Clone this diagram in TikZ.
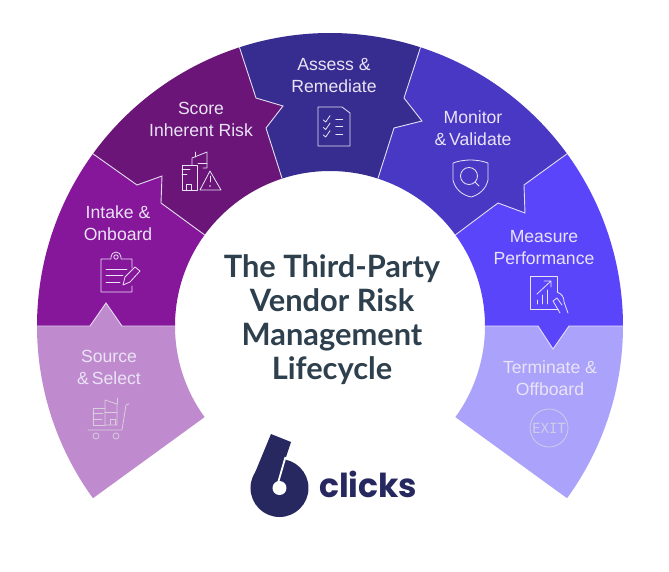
\documentclass[tikz,border=0pt]{standalone}
\usepackage{fontspec}
\setmainfont{Liberation Sans}
\newfontfamily\titlefont{Lato}
\newfontfamily\logofont{Poppins}
\newfontfamily\exitfont{DejaVu Sans Mono}
\definecolor{cSource}{HTML}{C08BCE}
\definecolor{cIntake}{HTML}{86169A}
\definecolor{cScore}{HTML}{6A1577}
\definecolor{cAssess}{HTML}{372D91}
\definecolor{cMonitor}{HTML}{4838C4}
\definecolor{cMeasure}{HTML}{5A45FB}
\definecolor{cTerm}{HTML}{ABA3FB}
\definecolor{cEdge}{HTML}{E4DCF0}
\definecolor{cLabel}{HTML}{E9E3F6}
\definecolor{cTitle}{HTML}{2E404D}
\definecolor{cLogo}{HTML}{27285F}
\definecolor{cBuild}{HTML}{D8CEDC}
\definecolor{cBuild2}{HTML}{CFCBE9}
\tikzset{
  seglabel/.style={text=cLabel,align=center,font=\fontsize{17.6}{22}\selectfont,inner sep=0pt},
  edgeline/.style={draw=cEdge,line width=0.9pt,line join=miter},
  icon/.style={draw=#1,line width=0.8pt,line join=round,line cap=round},
  icon/.default=cLabel
}
\begin{document}
\begin{tikzpicture}[x=1pt,y=1pt]
\useasboundingbox[fill=white] (-330,-245) rectangle (339,326);
\def\Ro{293}\def\Ri{155}
% segments (origin = ring centre)
\fill[cSource] (216:\Ro) arc[start angle=216,end angle=180,radius=\Ro pt] -- (-240,0) -- (-224,23) -- (-208,0) -- (180:\Ri) arc[start angle=180,end angle=216,radius=\Ri pt] -- cycle;
\fill[cIntake] (180:\Ro) arc[start angle=180,end angle=144,radius=\Ro pt] -- (-193,141) -- (-168,150) -- (-169,123) -- (144:\Ri) arc[start angle=144,end angle=180,radius=\Ri pt] -- (-208,0) -- (-224,23) -- (-240,0) -- cycle;
\fill[cScore] (144:\Ro) arc[start angle=144,end angle=108,radius=\Ro pt] -- (-74,228) -- (-47,220) -- (-64,198) -- (108:\Ri) arc[start angle=108,end angle=144,radius=\Ri pt] -- (-169,123) -- (-168,150) -- (-193,141) -- cycle;
\fill[cAssess] (108:\Ro) arc[start angle=108,end angle=72,radius=\Ro pt] -- (74,228) -- (92,205) -- (64,198) -- (72:\Ri) arc[start angle=72,end angle=108,radius=\Ri pt] -- (-64,198) -- (-47,220) -- (-74,228) -- cycle;
\fill[cMonitor] (72:\Ro) arc[start angle=72,end angle=36,radius=\Ro pt] -- (194,141) -- (195,113) -- (168,123) -- (36:\Ri) arc[start angle=36,end angle=72,radius=\Ri pt] -- (64,198) -- (92,205) -- (74,228) -- cycle;
\fill[cMeasure] (36:\Ro) arc[start angle=36,end angle=0,radius=\Ro pt] -- (239,0) -- (223,-23) -- (208,0) -- (0:\Ri) arc[start angle=0,end angle=36,radius=\Ri pt] -- (168,123) -- (195,113) -- (194,141) -- cycle;
\fill[cTerm] (0:\Ro) arc[start angle=0,end angle=-36,radius=\Ro pt] -- (-36:\Ri) arc[start angle=-36,end angle=0,radius=\Ri pt] -- (155,0) -- (208,0) -- (223,-23) -- (239,0) -- cycle;
% boundaries
\draw[edgeline] (180:\Ro) -- (-240,0) -- (-224,23) -- (-208,0) -- (180:\Ri);
\draw[edgeline] (144:\Ro) -- (-193,141) -- (-168,150) -- (-169,123) -- (144:\Ri);
\draw[edgeline] (108:\Ro) -- (-74,228) -- (-47,220) -- (-64,198) -- (108:\Ri);
\draw[edgeline] (72:\Ro) -- (74,228) -- (92,205) -- (64,198) -- (72:\Ri);
\draw[edgeline] (36:\Ro) -- (194,141) -- (195,113) -- (168,123) -- (36:\Ri);
\draw[edgeline] (0:\Ro) -- (239,0) -- (223,-23) -- (208,0) -- (0:\Ri);
\begin{scope}[shift={(-330pt,326pt)},y=-1pt]
% labels
\node[seglabel] (lSource) at (109,367.5) {Source\\\&\,Select};
\node[seglabel] (lIntake) at (118,223.5) {Intake \&\\Onboard};
\node[seglabel] (lScore) at (201,119.5) {Score\\Inherent Risk};
\node[seglabel] (lAssess) at (334,75.5) {Assess \&\\Remediate};
\node[seglabel] (lMonitor) at (473,128.5) {Monitor\\\&\,Validate};
\node[seglabel] (lMeasure) at (544,247.5) {Measure\\Performance};
\node[seglabel] (lTerm) at (550,378.5) {Terminate \&\\Offboard};
% title
\node[text=cTitle,align=center,inner sep=0pt,font=\titlefont\bfseries\fontsize{30.8}{34}\selectfont] (title) at (332,320) {The Third-Party\\Vendor Risk\\Management\\Lifecycle};
% intake icon
\draw[icon] (132,268) -- (132,259) -- (121,259) -- (121,257) arc[start angle=0,end angle=180,radius=5pt] -- (111,259) -- (101,259) -- (101,292) -- (132,292) -- (132,286);
\draw[icon] (116,257) circle[radius=2.2pt];
\draw[icon] (106,269) -- (127,269) (106,275) -- (123,275) (106,282) -- (120,282);
\draw[icon] (123,285) -- (125,277) -- (135,267) -- (140,271) -- (130,282) -- cycle;
% assess icon
\draw[icon] (342,107) -- (318,107) -- (318,146) -- (350,146) -- (350,113) -- cycle;
\foreach \d in {0,7.5,15}{
 \draw[icon] (323.3,120+\d) -- (325.7,122+\d) -- (330,115.7+\d);
 \draw[icon] (335.7,119+\d) -- (342.7,119+\d);
}
% score icon
\draw[icon] (197,190) -- (197,165) -- (182,165) -- (182,190) -- cycle;
\draw[icon] (182,169) -- (190,169) (182,174) -- (187,174);
\draw[icon] (186,190) -- (186,184) -- (191,184) -- (191,190);
\draw[icon] (192,165) -- (192,158) -- (207,152) -- (207,168) -- (203,168);
\draw[icon] (195,157) -- (195,152) (198,163) -- (207,163);
\draw[icon] (210,171) -- (221,190) -- (200,190) -- cycle;
\draw[icon] (210,176) -- (210,182);
\fill[cLabel] (210,186) circle[radius=0.8pt];
% monitor icon
\draw[icon] (453,163) .. controls (464,159) and (477,159) .. (488,163) -- (488,180) .. controls (486,189) and (479,195) .. (471,197) .. controls (462,195) and (455,189) .. (453,180) -- cycle;
\draw[icon] (469,176) circle[radius=8.5pt];
\draw[icon] (475,182) -- (479,186);
% measure icon
\draw[icon] (557,292) -- (557,276) -- (530,276) -- (530,309) -- (558,309);
\draw[icon] (537,294) -- (551,281) (544,281) -- (551,281) -- (551,287);
\draw[icon] (537,304) -- (537,300) (542,304) -- (542,295) (547,304) -- (547,290);
\draw[icon] (557,292) .. controls (562,294) and (564,297) .. (564,302) -- (568,313);
\draw[icon] (553,301) -- (560,313) (553,301) -- (557,298) -- (562,305);
% source icon
\draw[icon=cBuild] (105,425) -- (93,425) -- (93,408) -- (105,408);
\draw[icon=cBuild] (93,413) -- (103,413) (93,419) -- (102,419);
\draw[icon=cBuild] (105,425) -- (105,400) -- (117,404) -- (117,425) -- (105,425);
\draw[icon=cBuild] (117,404) -- (117,398) (105,412) -- (117,412);
\draw[icon=cBuild] (110,425) -- (110,419) -- (115,419) -- (115,425);
\draw[icon=cBuild] (88,430) -- (122,430) -- (126,405) -- (129,404);
\draw[icon=cBuild] (96,436) circle[radius=3pt] (116,436) circle[radius=3pt];
% terminate icon
\draw[icon=cBuild2] (549,428) circle[radius=19pt];
\node[text=cBuild2,inner sep=0pt,font=\exitfont\fontsize{14}{14}\selectfont] (exit) at (549,428.5) {EXIT};
% logo
\fill[cLogo] (279.5,488) circle[radius=29pt];
\fill[cLogo] (271,434) -- (291,442) -- (277,484) -- (252,480) -- cycle;
\draw[white,line width=1.8pt] (278,483) -- (285.5,457);
\fill[white] (279.5,488) circle[radius=7pt];
\node[text=cLogo,inner sep=0pt,anchor=base west,font=\logofont\bfseries\fontsize{33}{33}\selectfont] (logo) at (319,497) {clicks};
\end{scope}
\end{tikzpicture}
\end{document}
